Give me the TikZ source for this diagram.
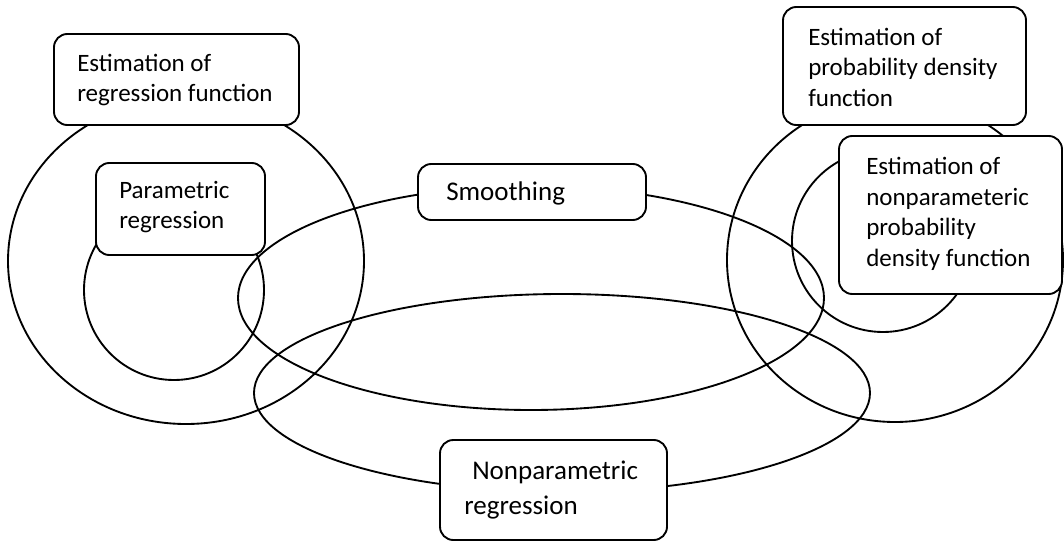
\documentclass[tikz,border=0pt]{standalone}
\usepackage{fontspec}
\setmainfont{Carlito}
\usetikzlibrary{fit}
\tikzset{
  ring/.style={line width=1.4pt},
  box/.style={draw, line width=1.4pt, fill=white, rounded corners=10pt, inner sep=0pt},
  txt/.style={anchor=west, align=left, inner sep=0pt, font=\fontsize{18.75pt}{22.9pt}\selectfont},
  bigtxt/.style={anchor=west, align=left, inner sep=0pt, font=\fontsize{20.25pt}{26.25pt}\selectfont},
}
\begin{document}
\begin{tikzpicture}[x=0.75pt, y=-0.75pt]
\useasboundingbox (0,0) rectangle (1064,542);
% sets
\draw[ring] (186,261) ellipse [x radius=178, y radius=163];
\draw[ring] (174,290) circle [radius=90];
\draw[ring] (895,260) ellipse [x radius=168, y radius=162];
\draw[ring] (883,241) circle [radius=91];
\draw[ring] (531,298) ellipse [x radius=293, y radius=112];
\draw[ring] (562,393) ellipse [x radius=308, y radius=99];
% boxes
\node[box, fit={(54,34) (299,125)}] (reg) {};
\node[txt] (regt) at (77,80) {Estimation of\\regression function};
\node[box, fit={(96,163) (265,255)}] (para) {};
\node[txt] (parat) at (119,207) {Parametric\\regression};
\node[box, fit={(418,164) (646,220)}] (smooth) {};
\node[bigtxt] (smootht) at (446,193) {Smoothing};
\node[box, fit={(783,7) (1026,125)}] (prob) {};
\node[txt] (probt) at (808,67) {Estimation of\\probability density\\function};
\node[box, fit={(839,136) (1062,294)}] (npdf) {};
\node[txt] (npdft) at (866,214) {Estimation of\\nonparameteric\\probability\\density function};
\node[box, fit={(440,440) (667,540)}] (nonpar) {};
\node[bigtxt] (nonpart) at (464,490) {\hspace{6pt}Nonparametric\\regression};
\end{tikzpicture}
\end{document}
